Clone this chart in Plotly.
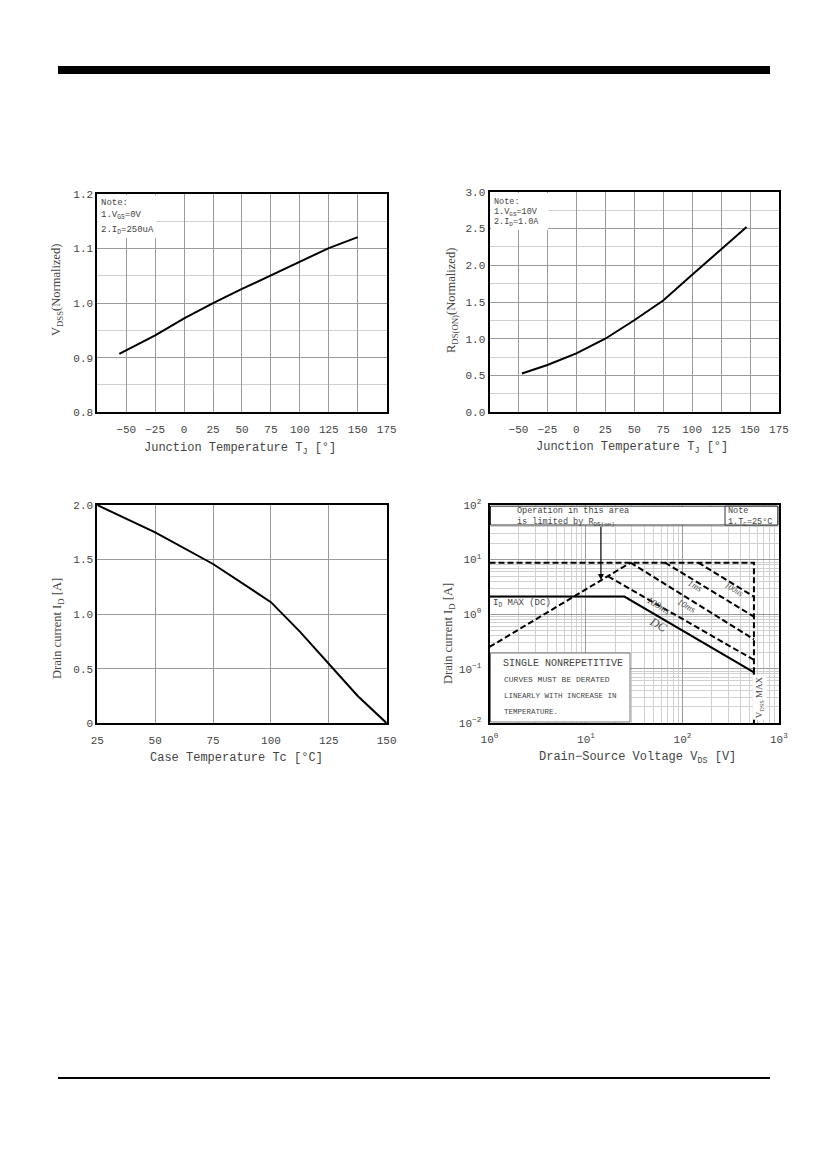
import plotly.graph_objects as go

PAGE_W, PAGE_H = 827, 1169
BODY = 8  # default page margin of the html body
W, H = PAGE_W - 2 * BODY, PAGE_H - 2 * BODY

# normalized breakdown voltage vs junction temperature
tj_bv = [-56, -25, 0, 25, 50, 75, 100, 125, 150]
bvdss_norm = [0.907, 0.941, 0.972, 1.000, 1.026, 1.051, 1.076, 1.101, 1.121]

# normalized on-resistance vs junction temperature
tj_rds = [-47, -25, 0, 25, 50, 75, 100, 125, 147]
rdson_norm = [0.526, 0.642, 0.800, 1.000, 1.252, 1.520, 1.870, 2.210, 2.520]

# max drain current vs case temperature
tc = [25, 50, 75, 100, 112.5, 125, 137.5, 150]
id_max = [2.00, 1.75, 1.46, 1.11, 0.84, 0.55, 0.25, 0.00]

# safe operating area
limit_v = [1, 551, 551]
limit_i = [8.8, 8.8, 0.0857]
rds_v = [1, 29]
rds_i = [0.25, 8.8]
p100us_v = [146, 551]
p100us_i = [8.8, 2.09]
p1ms_v = [66, 551]
p1ms_i = [8.8, 0.90]
p10ms_v = [29, 551]
p10ms_i = [8.8, 0.346]
p100ms_v = [17, 551]
p100ms_i = [4.9, 0.145]
dc_v = [1, 25, 551, 551]
dc_i = [2.1, 2.1, 0.0857, 0.01]

# ticks
tj_ticks = [-50, -25, 0, 25, 50, 75, 100, 125, 150, 175]
bv_ticks = [0.8, 0.9, 1.0, 1.1, 1.2]
rds_ticks = [0.0, 0.5, 1.0, 1.5, 2.0, 2.5, 3.0]
tc_ticks = [25, 50, 75, 100, 125, 150]
id_ticks = [0, 0.5, 1.0, 1.5, 2.0]
id_ticktext = ["0", "0.5", "1.0", "1.5", "2.0"]
soa_v_ticks = [1, 10, 100, 1000]
soa_v_text = ["10<sup>0</sup>", "10<sup>1</sup>", "10<sup>2</sup>", "10<sup>3</sup>"]
soa_i_ticks = [0.01, 0.1, 1, 10, 100]
soa_i_text = ["10<sup>−2</sup>", "10<sup>−1</sup>", "10<sup>0</sup>", "10<sup>1</sup>", "10<sup>2</sup>"]
log_minor = [m * 10 ** d for d in range(-2, 3) for m in range(2, 10)]


# page pixel -> paper fraction
def px(x):
    return (x - BODY) / W


def py(y):
    return 1 - (y - BODY) / H


MONO = "Liberation Mono"
SERIF = "Liberation Serif"
GRID = "#9a9a9a"
MINOR = "#d0d0d0"
TXT = "#444"

axis_common = dict(
    showline=True, mirror=True, linecolor="black", linewidth=2, automargin=False,
    ticks="", zeroline=False, gridcolor=GRID, gridwidth=1,
    tickfont=dict(family=MONO, size=11, color=TXT),
)

fig = go.Figure()

line_style = dict(color="black", width=2)
fig.add_trace(go.Scatter(x=tj_bv, y=bvdss_norm, mode="lines", line=line_style,
                         xaxis="x", yaxis="y", showlegend=False))
fig.add_trace(go.Scatter(x=tj_rds, y=rdson_norm, mode="lines", line=line_style,
                         xaxis="x2", yaxis="y2", showlegend=False))
fig.add_trace(go.Scatter(x=tc, y=id_max, mode="lines", line=line_style,
                         xaxis="x3", yaxis="y3", showlegend=False))

dash_style = dict(color="black", width=2, dash="6px,3px")
for vv, ii in [(limit_v, limit_i), (rds_v, rds_i), (p100us_v, p100us_i),
               (p1ms_v, p1ms_i), (p10ms_v, p10ms_i), (p100ms_v, p100ms_i)]:
    fig.add_trace(go.Scatter(x=vv, y=ii, mode="lines", line=dash_style,
                             xaxis="x4", yaxis="y4", showlegend=False))
fig.add_trace(go.Scatter(x=dc_v, y=dc_i, mode="lines", line=dict(color="black", width=2),
                         xaxis="x4", yaxis="y4", showlegend=False))

dom_l = [px(97.3), px(386.7)]
dom_r = [px(489.5), px(779)]

fig.update_layout(
    width=W, height=H, margin=dict(l=0, r=0, t=0, b=0, pad=0, autoexpand=False),
    paper_bgcolor="white", plot_bgcolor="white", showlegend=False,
    xaxis=dict(axis_common, domain=dom_l, range=[-75, 175.01], tickmode="array",
               tickvals=tj_ticks, anchor="y", ticklabelstandoff=5),
    yaxis=dict(axis_common, domain=[py(412.3), py(194)], range=[0.7999, 1.2001],
               tickmode="array", tickvals=bv_ticks, tickformat=".1f", anchor="x",
               minor=dict(tickmode="linear", tick0=0.8, dtick=0.05, showgrid=True, gridcolor=MINOR)),
    xaxis2=dict(axis_common, domain=dom_r, range=[-75, 175.01], tickmode="array",
                tickvals=tj_ticks, anchor="y2", ticklabelstandoff=5),
    yaxis2=dict(axis_common, domain=[py(412.3), py(191.7)], range=[-0.001, 3.001],
                tickmode="array", tickvals=rds_ticks, tickformat=".1f", anchor="x2",
                minor=dict(tickmode="linear", tick0=0, dtick=0.25, showgrid=True, gridcolor=MINOR)),
    xaxis3=dict(axis_common, domain=dom_l, range=[24.99, 150.01], tickmode="array",
                tickvals=tc_ticks, anchor="y3", ticklabelstandoff=5),
    yaxis3=dict(axis_common, domain=[py(723.3), py(505)], range=[-0.001, 2.001],
                tickmode="array", tickvals=id_ticks, ticktext=id_ticktext, anchor="x3"),
    xaxis4=dict(axis_common, domain=dom_r, type="log", range=[0, 3.001], tickmode="array",
                tickvals=soa_v_ticks, ticktext=soa_v_text, anchor="y4", ticklabelstandoff=4,
                minor=dict(tickmode="array", tickvals=log_minor, showgrid=True, gridcolor=MINOR)),
    yaxis4=dict(axis_common, domain=[py(723.3), py(505)], type="log", range=[-2.001, 2.001],
                tickmode="array", tickvals=soa_i_ticks, ticktext=soa_i_text, anchor="x4",
                ticklabelstandoff=4,
                minor=dict(tickmode="array", tickvals=log_minor, showgrid=True, gridcolor=MINOR)),
)

shapes = [
    # page header bar and footer rule
    dict(type="rect", xref="paper", yref="paper", x0=px(58), x1=px(770), y0=py(74), y1=py(66),
         fillcolor="black", line=dict(width=0)),
    dict(type="line", xref="paper", yref="paper", x0=px(58), x1=px(770), y0=py(1078), y1=py(1078),
         line=dict(color="black", width=2)),
    # white note boxes covering the grid
    dict(type="rect", xref="paper", yref="paper", x0=px(98.5), x1=px(156), y0=py(238), y1=py(195.2),
         fillcolor="white", line=dict(width=0), layer="above"),
    dict(type="rect", xref="paper", yref="paper", x0=px(491), x1=px(548), y0=py(230), y1=py(193),
         fillcolor="white", line=dict(width=0), layer="above"),
    dict(type="rect", xref="paper", yref="paper", x0=px(490.5), x1=px(777.8), y0=py(525), y1=py(506.2),
         fillcolor="white", line=dict(color="#333", width=1), layer="above"),
    dict(type="rect", xref="paper", yref="paper", x0=px(725), x1=px(777.8), y0=py(525), y1=py(506.2),
         fillcolor="white", line=dict(color="#333", width=1), layer="above"),
    dict(type="rect", xref="paper", yref="paper", x0=px(490.5), x1=px(630), y0=py(722), y1=py(653),
         fillcolor="white", line=dict(color="#555", width=0.8), layer="above"),
]
fig.update_layout(shapes=shapes)

ann = []


def note(x, y, text, size, family=MONO, color=TXT, **kw):
    d = dict(xref="paper", yref="paper", x=px(x), y=py(y), text=text, showarrow=False,
             xanchor="left", yanchor="middle", align="left",
             font=dict(family=family, size=size, color=color))
    d.update(kw)
    ann.append(d)


def centered(x, y, text, size, family=MONO, angle=0):
    ann.append(dict(xref="paper", yref="paper", x=px(x), y=py(y), text=text, showarrow=False,
                    xanchor="center", yanchor="middle", textangle=angle,
                    font=dict(family=family, size=size, color=TXT)))


# axis titles
centered(240, 449, "Junction Temperature T<sub>J</sub> [°]", 12)
centered(57, 290, "V<sub>DSS</sub>(Normalized)", 12.5, SERIF, -90)
centered(632, 448, "Junction Temperature T<sub>J</sub> [°]", 12)
centered(452, 301, "R<sub>DS(ON)</sub>(Normalized)", 12.5, SERIF, -90)
centered(236, 758, "Case Temperature Tc [°C]", 12)
centered(58, 629, "Drain current I<sub>D</sub> [A]", 12.5, SERIF, -90)
centered(637, 758, "Drain−Source Voltage V<sub>DS</sub> [V]", 12)
centered(449, 634, "Drain current I<sub>D</sub> [A]", 12.5, SERIF, -90)

# notes on temperature charts
note(98.5, 202.7, "Note:", 9)
note(98.5, 215.5, "1.V<sub>GS</sub>=0V", 9)
note(98.5, 230.5, "2.I<sub>D</sub>=250uA", 9)
note(492, 201.5, "Note:", 8.5)
note(492, 212.5, "1.V<sub>GS</sub>=10V", 8.5)
note(492, 222.5, "2.I<sub>D</sub>=1.0A", 8.5)

# SOA notes
note(516, 516.5, "Operation in this area<br>is limited by R<sub>DS(on)</sub>", 8.5, borderpad=0)
note(727, 516.5, "Note<br>1.T<sub>C</sub>=25°C", 8.5, borderpad=0)
note(501, 663.3, "SINGLE NONREPETITIVE", 10)
note(502, 679.3, "CURVES MUST BE DERATED", 8)
note(502, 695.7, "LINEARLY WITH INCREASE IN", 7.5)
note(502, 711.7, "TEMPERATURE.", 7.5)
note(491, 603, "I<sub>D</sub> MAX (DC)", 9)

# SOA curve labels (log coordinates)
for lx, ly, text, size in [(1.757, 0.150, "<i>100ms</i>", 9.5), (1.757, -0.199, "<i>DC</i>", 12),
                           (2.047, 0.150, "<i>10ms</i>", 9), (2.135, 0.524, "<i>1ms</i>", 9),
                           (2.534, 0.443, "<i>100us</i>", 8)]:
    ann.append(dict(xref="x4", yref="y4", x=lx, y=ly, text=text, showarrow=False,
                    textangle=30, font=dict(family=SERIF, size=size, color=TXT)))
ann.append(dict(xref="x4", yref="y4", x=2.795, y=-1.52, text="V<sub>DSS</sub> MAX", showarrow=False,
                textangle=-90, bgcolor="white", font=dict(family=SERIF, size=9, color=TXT)))
# arrow pointing to Rds(on) limit
ann.append(dict(xref="x4", yref="y4", x=1.155, y=0.625, axref="x4", ayref="y4",
                ax=1.155, ay=1.63, text="", showarrow=True, arrowhead=2, arrowsize=1,
                arrowwidth=1.2, arrowcolor="black"))

fig.update_layout(annotations=ann)

fig.write_html("out.html")
